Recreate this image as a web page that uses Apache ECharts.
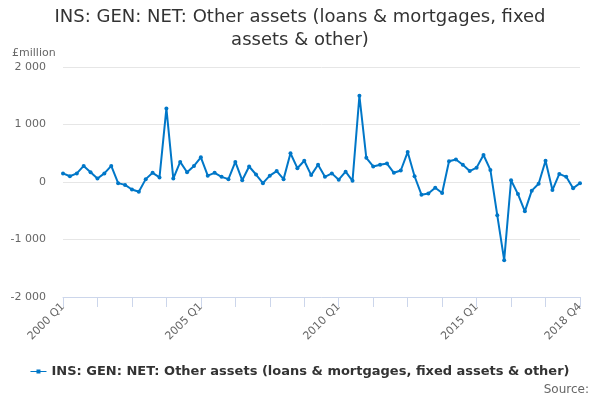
<!DOCTYPE html>
<html>
<head>
<meta charset="utf-8">
<script src="https://cdn.jsdelivr.net/npm/echarts@6/dist/echarts.min.js"></script>
<style>
  html, body { margin: 0; padding: 0; background: #fff; }
  #chart { width: 600px; height: 400px; }
</style>
</head>
<body>
<div id="chart"></div>
<script>
// quarterly values, £million, 2000 Q1 .. 2018 Q4
const quarters = [];
for (let y = 2000; y <= 2018; y++) {
  for (let q = 1; q <= 4; q++) quarters.push(y + ' Q' + q);
}

const otherAssets = [
  150, 100, 150, 280, 170, 60, 150, 280,
  -20, -50, -130, -170, 50, 160, 80, 1280,
  60, 350, 170, 280, 430, 110, 160, 90,
  50, 350, 30, 270, 130, -20, 110, 190,
  50, 500, 240, 370, 120, 300, 90, 150,
  40, 180, 20, 1500, 420, 270, 300, 320,
  160, 200, 520, 100, -220, -200, -100, -190,
  360, 390, 300, 190, 250, 470, 210, -580,
  -1360, 30, -210, -510, -150, -30, 370, -140,
  140, 90, -110, -20
];

const yTicks = [-2000, -1000, 0, 1000, 2000];
const shownLabels = ['2000 Q1', '2005 Q1', '2010 Q1', '2015 Q1', '2018 Q4'];

const chart = echarts.init(document.getElementById('chart'));
const font = 'DejaVu Sans, sans-serif';
const seriesName = 'INS: GEN: NET: Other assets (loans & mortgages, fixed assets & other)';

chart.setOption({
  animation: false,
  textStyle: { fontFamily: font },
  graphic: [{
    type: 'text',
    x: 300,
    y: 6,
    style: {
      text: 'INS: GEN: NET: Other assets (loans & mortgages, fixed\nassets & other)',
      align: 'center',
      verticalAlign: 'top',
      fontSize: 18,
      lineHeight: 23,
      fill: '#333',
      fontFamily: font
    }
  }, {
    type: 'text',
    right: 11,
    top: 384,
    style: { text: 'Source:', fontSize: 12, fill: '#666', fontFamily: font }
  }],
  legend: {
    bottom: 17,
    left: 'center',
    itemWidth: 16,
    itemHeight: 4,
    textStyle: { fontSize: 13, fontWeight: 'bold', color: '#333', fontFamily: font },
    data: [{ name: seriesName, icon: 'path://M0,1.5 L16,1.5 L16,2.5 L0,2.5 Z M6,0 L10,0 L10,4 L6,4 Z' }]
  },
  grid: { left: 63, right: 20, top: 67, bottom: 103, containLabel: false },
  xAxis: {
    type: 'category',
    data: quarters,
    boundaryGap: false,
    axisLine: { onZero: false, lineStyle: { color: '#ccd6eb' } },
    axisTick: { show: true, interval: 4, length: 10, lineStyle: { color: '#ccd6eb' } },
    axisLabel: {
      rotate: 45,
      interval: 0,
      color: '#666',
      fontSize: 11,
      margin: 8,
      formatter: v => shownLabels.includes(v) ? v : ''
    },
    splitLine: { show: false }
  },
  yAxis: {
    type: 'value',
    min: yTicks[0],
    max: yTicks[yTicks.length - 1],
    interval: 1000,
    name: '£million',
    nameLocation: 'end',
    nameGap: 8,
    nameTextStyle: { color: '#666', fontSize: 11, align: 'left', padding: [0, 0, 0, -51] },
    axisLine: { show: false },
    axisTick: { show: false },
    axisLabel: {
      color: '#666',
      fontSize: 11,
      margin: 17,
      formatter: v => String(v).replace(/\B(?=(\d{3})+(?!\d))/g, ' ')
    },
    splitLine: { lineStyle: { color: '#e6e6e6' } }
  },
  series: [{
    name: seriesName,
    type: 'line',
    data: otherAssets,
    color: '#0077c8',
    symbol: 'circle',
    symbolSize: 4,
    lineStyle: { width: 2 }
  }]
});
</script>
</body>
</html>
